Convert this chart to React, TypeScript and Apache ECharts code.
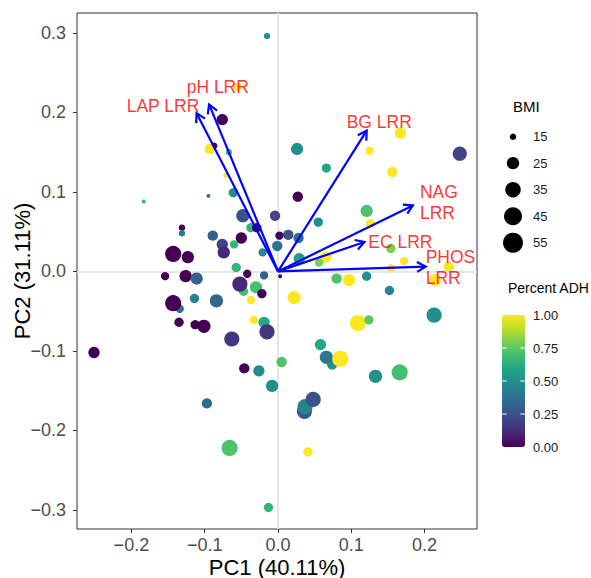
import React, { useEffect, useRef } from 'react';
import * as echarts from 'echarts';

// ---- data ----
const pc1 = [
  -0.015, -0.055, -0.076, -0.087, -0.093, -0.067, -0.071, -0.183, -0.095, -0.061,
  -0.048, -0.037, -0.029, -0.131, -0.131, -0.089, -0.050, -0.076, -0.074, -0.060,
  -0.143, -0.123, -0.021, -0.057, -0.042, -0.154, -0.126, -0.111, -0.019, -0.047,
  -0.052, -0.030, -0.022, -0.037, -0.114, -0.084, -0.134, -0.143, -0.135, -0.113,
  -0.101, -0.033, -0.019, -0.015, -0.063, -0.251, -0.046, -0.026, -0.008, -0.097,
  -0.066, -0.013, 0.003, 0.005, 0.080, 0.097, 0.121, 0.152, 0.154, 0.172,
  0.214, 0.233, 0.022, 0.109, 0.124, 0.213, 0.058, 0.074, 0.066, 0.085,
  0.133, 0.166, 0.036, 0.037, 0.048, 0.041, 0.026, 0.066, 0.125, 0.167,
  0.156, 0.248, 0.027, 0.121, 0.126, 0.055, -0.004, 0.014, 0.002, 0.028,
  -0.001, 0.029, 0.065, 0.056, 0.154,
];
const pc2 = [
  0.296, 0.232, 0.191, 0.158, 0.154, 0.150, 0.121, 0.088, 0.095, 0.099,
  0.070, 0.055, 0.055, 0.055, 0.048, 0.045, 0.042, 0.034, 0.024, 0.034,
  0.022, 0.018, 0.024, 0.005, -0.003, -0.006, -0.006, -0.009, -0.005, -0.025,
  -0.016, -0.020, -0.028, -0.036, -0.034, -0.037, -0.047, -0.040, -0.064, -0.067,
  -0.069, -0.061, -0.064, -0.076, -0.085, -0.102, -0.122, -0.125, -0.144, -0.166,
  -0.222, -0.297, -0.006, -0.114, -0.009, -0.011, -0.006, -0.024, 0.004, 0.013,
  -0.011, 0.006, -0.033, -0.065, -0.061, -0.055, -0.092, -0.117, -0.108, -0.110,
  -0.132, -0.127, -0.176, -0.170, -0.161, -0.227, 0.154, 0.130, 0.152, 0.174,
  0.125, 0.148, 0.094, 0.076, 0.060, 0.062, 0.070, 0.046, 0.045, 0.042,
  0.032, 0.016, 0.018, 0.011, 0.029,
];
const bmi = [
  15, 17, 22.5, 15, 20.4, 15, 14.3, 14, 14, 18.5,
  27.6, 18.5, 18.5, 15, 15, 20.4, 22.5, 22.5, 24.9, 17,
  37.5, 24.9, 17, 18.5, 17, 17, 24.9, 24.9, 17, 18.5,
  33.9, 24.9, 18.5, 17, 18.5, 27.6, 17, 37.5, 18.5, 18.5,
  27.6, 17, 22.5, 33.9, 33.9, 22.5, 20.4, 22.5, 24.9, 20.4,
  37.5, 18.5, 14, 20.4, 20.4, 24.9, 18.5, 18.5, 17, 17,
  24.9, 20.4, 27.6, 37.5, 18.5, 33.9, 22.5, 20.4, 27.6, 37.5,
  27.6, 37.5, 33.9, 33.9, 33.9, 18.5, 24.9, 18.5, 17, 22.5,
  20.4, 30.6, 20.4, 24.9, 18.5, 18.5, 20.4, 20.4, 17, 20.4,
  20.4, 22.5, 22.5, 17, 18.5,
];
const adh = [
  0.5, 1, 0, 0, 1, 0.7, 1, 0.65, 0.35, 0.5,
  0.25, 0.65, 0, 0, 0.4, 0.3, 0, 0.2, 0.12, 0.65,
  0, 0, 0.45, 0.65, 0, 0, 0, 0.3, 0.3, 0.7,
  0.12, 0.7, 0, 1, 0.45, 0.32, 0.38, 0, 0, 0,
  0, 1, 0.6, 0.15, 0.15, 0, 0, 0.48, 0.5, 0.35,
  0.72, 0.65, 0, 0.72, 0.72, 1, 0.5, 0.45, 1, 1,
  1, 1, 1, 1, 0.75, 0.5, 0.6, 0.5, 0.4, 1,
  0.5, 0.7, 0.28, 0.45, 0.25, 1, 0.5, 0.6, 1, 1,
  1, 0.2, 0, 0.72, 1, 0.5, 0.2, 0.25, 0, 0.35,
  0.38, 0.55, 1, 0.8, 0.8,
];

const loadingNames = ['LAP LRR', 'pH LRR', 'BG LRR', 'NAG\nLRR', 'EC LRR', 'PHOS\nLRR'];
const loadingPC1 = [-0.111, -0.094, 0.121, 0.184, 0.118, 0.2015];
const loadingPC2 = [0.199, 0.210, 0.177, 0.083, 0.037, 0.006];
const labelPC1 = [-0.2064, -0.1246, 0.0937, 0.1937, 0.1232, 0.2015];
const labelPC2 = [0.2086, 0.2325, 0.1884, 0.0862, 0.0367, 0.0054];

const xTicks = [-0.2, -0.1, 0, 0.1, 0.2];
const yTicks = [-0.3, -0.2, -0.1, 0, 0.1, 0.2, 0.3];
const bmiBreaks = [15, 25, 35, 45, 55];
const adhBreaks = [0, 0.25, 0.5, 0.75, 1];
const adhLabels = ['0.00', '0.25', '0.50', '0.75', '1.00'];

const VIRIDIS = ['#440154', '#482475', '#414487', '#355F8D', '#2A788E', '#21908D', '#22A884', '#44BF70', '#7AD151', '#BDDF26', '#FDE725'];
const FONT = '"Liberation Sans", Arial, Helvetica, sans-serif';

const sizeOf = (b: number) => 4 + 17 * Math.sqrt(Math.max(0, (b - 14) / 46));
const fmt = (v: number) => (Math.abs(v) < 1e-9 ? '0.0' : v.toFixed(1).replace('-', '\u2212'));

export default function App() {
  const ref = useRef<HTMLDivElement>(null);
  useEffect(() => {
    const chart = echarts.init(ref.current!, null, { renderer: 'svg' });
    const points = pc1.map((x, i) => [x, pc2[i], bmi[i], adh[i]]);
    const arrows = loadingNames.map((n, i) => ({ name: n, value: [loadingPC1[i], loadingPC2[i]] }));
    const labels = loadingNames.map((n, i) => ({ name: n, value: [labelPC1[i], labelPC2[i]] }));

    // legend layout
    const bmiX = 513, bmiY0 = 136.7, bmiStep = 26.5;
    const barL = 502, barT = 315, barW = 23, barH = 132;
    const graphic: any[] = [
      { type: 'text', x: 513, y: 106.7, z: 100, style: { text: 'BMI', fontSize: 15, fontFamily: FONT, fill: '#000', textAlign: 'left', textVerticalAlign: 'middle' } },
      { type: 'text', x: 508, y: 288, z: 100, style: { text: 'Percent ADH', fontSize: 14, fontFamily: FONT, fill: '#000', textAlign: 'left', textVerticalAlign: 'middle' } },
    ];
    bmiBreaks.forEach((b, i) => {
      const cy = bmiY0 + i * bmiStep;
      graphic.push({ type: 'circle', z: 100, shape: { cx: bmiX, cy, r: sizeOf(b) / 2 }, style: { fill: '#000' } });
      graphic.push({ type: 'text', x: 533, y: cy, z: 100, style: { text: String(b), fontSize: 13, fontFamily: FONT, fill: '#1a1a1a', textAlign: 'left', textVerticalAlign: 'middle' } });
    });
    adhBreaks.forEach((v, i) => {
      const y = barT + (1 - v) * barH;
      graphic.push({ type: 'text', x: 533, y, z: 100, style: { text: adhLabels[i], fontSize: 13, fontFamily: FONT, fill: '#1a1a1a', textAlign: 'left', textVerticalAlign: 'middle' } });
      if (v > 0 && v < 1) {
        graphic.push({ type: 'line', z: 101, shape: { x1: barL, y1: y, x2: barL + 4.6, y2: y }, style: { stroke: '#fff', lineWidth: 1 } });
        graphic.push({ type: 'line', z: 101, shape: { x1: barL + barW - 4.6, y1: y, x2: barL + barW, y2: y }, style: { stroke: '#fff', lineWidth: 1 } });
      }
    });

    const option: any = {
      animation: false,
      backgroundColor: '#fff',
      textStyle: { fontFamily: FONT },
      grid: {
        left: 77, right: 114, top: 13, bottom: 49, show: true, borderColor: '#333', borderWidth: 1,
        backgroundColor: 'transparent', containLabel: false, outerBoundsMode: 'none',
      },
      xAxis: {
        type: 'value', min: -0.2742, max: 0.2715,
        splitLine: { show: false }, axisLine: { show: false, onZero: false },
        axisTick: { show: true, length: 4, lineStyle: { color: '#333' }, customValues: xTicks },
        axisLabel: { customValues: xTicks, formatter: fmt, fontSize: 18, color: '#4D4D4D', margin: 7, fontFamily: FONT },
        name: 'PC1 (40.11%)', nameLocation: 'middle', nameGap: 27, nameMoveOverlap: false,
        nameTextStyle: { fontSize: 22, color: '#000', fontFamily: FONT },
      },
      yAxis: {
        type: 'value', min: -0.324, max: 0.325,
        splitLine: { show: false }, axisLine: { show: false, onZero: false },
        axisTick: { show: true, length: 4, lineStyle: { color: '#333' }, customValues: yTicks },
        axisLabel: { customValues: yTicks, formatter: fmt, fontSize: 18, color: '#4D4D4D', margin: 11, fontFamily: FONT },
        name: 'PC2 (31.11%)', nameLocation: 'middle', nameGap: 44, nameRotate: 90, nameMoveOverlap: false,
        nameTextStyle: { fontSize: 22, color: '#000', fontFamily: FONT },
      },
      visualMap: {
        type: 'continuous', min: 0, max: 1, dimension: 3, seriesIndex: 0,
        inRange: { color: VIRIDIS }, show: true, calculable: false, hoverLink: false,
        left: barL, top: barT, itemWidth: barW, itemHeight: barH, padding: 0,
      },
      series: [
        {
          type: 'scatter', data: points, z: 2,
          symbolSize: (v: number[]) => sizeOf(v[2]),
          itemStyle: { opacity: 1 },
          markLine: {
            silent: true, symbol: 'none', z: 1, animation: false,
            label: { show: false },
            lineStyle: { color: '#E6E6E6', width: 2, type: 'solid' },
            data: [{ xAxis: 0 }, { yAxis: 0 }],
          },
        },
        {
          type: 'custom', data: arrows, z: 3, encode: { x: 0, y: 1 }, silent: true,
          renderItem: (_p: any, api: any) => {
            const o = api.coord([0, 0]);
            const e = api.coord([api.value(0), api.value(1)]);
            const ang = Math.atan2(e[1] - o[1], e[0] - o[0]);
            const L = 10, a = Math.PI / 6;
            const p1 = [e[0] - L * Math.cos(ang - a), e[1] - L * Math.sin(ang - a)];
            const p2 = [e[0] - L * Math.cos(ang + a), e[1] - L * Math.sin(ang + a)];
            const style = { stroke: '#0000FF', lineWidth: 2.2, fill: 'none' };
            return {
              type: 'group',
              children: [
                { type: 'line', shape: { x1: o[0], y1: o[1], x2: e[0], y2: e[1] }, style },
                { type: 'polyline', shape: { points: [p1, e, p2] }, style },
              ],
            };
          },
        },
        {
          type: 'scatter', data: labels, z: 4, symbolSize: 0, silent: true,
          label: {
            show: true, position: 'right', distance: 0, formatter: '{b}',
            color: '#FF0000', fontSize: 17.5, lineHeight: 21, fontFamily: FONT, align: 'left',
          },
        },
      ],
      graphic,
    };
    chart.setOption(option);
    return () => chart.dispose();
  }, []);
  return <div ref={ref} style={{ position: 'absolute', left: 0, top: 0, width: 591, height: 578 }} />;
}
